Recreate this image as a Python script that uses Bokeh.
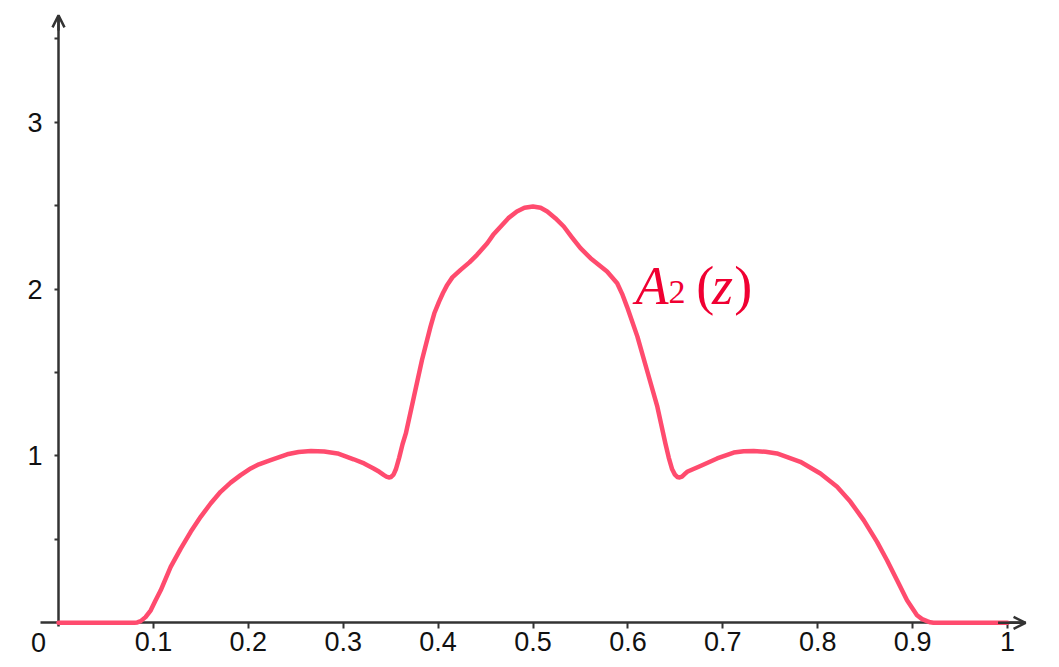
from bokeh.plotting import figure
from bokeh.models import Range1d, FixedTicker, Label, Arrow, OpenHead
from bokeh.embed import file_html
from bokeh.resources import INLINE

# ---- data ----
z_vals = [0.0, 0.08, 0.083, 0.0866, 0.0917, 0.0972, 0.1022, 0.1077, 0.1182, 0.1288,
          0.1393, 0.1498, 0.1603, 0.1708, 0.1814, 0.1919, 0.2025, 0.2112, 0.2235, 0.241,
          0.253, 0.266, 0.28, 0.294, 0.311, 0.322, 0.332, 0.338, 0.343, 0.3455,
          0.348, 0.3505, 0.353, 0.3555, 0.359, 0.3625, 0.366, 0.3745, 0.383, 0.392,
          0.396, 0.401, 0.405, 0.4096, 0.415, 0.4237, 0.433, 0.441, 0.4518, 0.458,
          0.466, 0.474, 0.483, 0.491, 0.5, 0.508, 0.515, 0.5235, 0.5324, 0.541,
          0.55, 0.5606, 0.578, 0.5887, 0.594, 0.599, 0.61, 0.62, 0.631, 0.6395,
          0.643, 0.6466, 0.6495, 0.652, 0.6545, 0.657, 0.66, 0.6624, 0.6764, 0.694,
          0.7115, 0.722, 0.7325, 0.745, 0.757, 0.7817, 0.8028, 0.8204, 0.8345, 0.8484,
          0.8625, 0.873, 0.8836, 0.8941, 0.9046, 0.91, 0.9152, 0.9185, 0.922, 1.0]
a_vals = [0.0, 0.0, 0.002, 0.01, 0.034, 0.075, 0.134, 0.195, 0.335, 0.445,
          0.545, 0.635, 0.715, 0.785, 0.84, 0.885, 0.925, 0.95, 0.975, 1.01,
          1.024, 1.03, 1.027, 1.015, 0.98, 0.955, 0.925, 0.905, 0.885, 0.876,
          0.871, 0.874, 0.888, 0.92, 0.99, 1.07, 1.135, 1.355, 1.575, 1.775,
          1.855, 1.925, 1.975, 2.025, 2.07, 2.115, 2.16, 2.205, 2.275, 2.325,
          2.375, 2.425, 2.465, 2.487, 2.495, 2.487, 2.465, 2.425, 2.375, 2.31,
          2.245, 2.185, 2.105, 2.035, 1.97, 1.895, 1.715, 1.515, 1.295, 1.075,
          0.99, 0.92, 0.888, 0.874, 0.871, 0.876, 0.892, 0.905, 0.94, 0.985,
          1.02, 1.028, 1.03, 1.025, 1.015, 0.965, 0.895, 0.815, 0.725, 0.615,
          0.485, 0.375, 0.255, 0.135, 0.045, 0.022, 0.01, 0.003, 0.0, 0.0]

x_ticks = [0.1, 0.2, 0.3, 0.4, 0.5, 0.6, 0.7, 0.8, 0.9, 1.0]
x_tick_labels = ["0.1", "0.2", "0.3", "0.4", "0.5", "0.6", "0.7", "0.8", "0.9", "1"]
y_ticks = [1, 2, 3]
y_minor_ticks = [0.5, 1.5, 2.5, 3.5]
y_tick_labels = ["1", "2", "3"]
origin_label = "0"

AXIS_COLOR = "#333333"
CURVE_COLOR = "#ff4b6e"
TEXT_RED = "#f00032"

p = figure(width=1043, height=660,
           x_range=Range1d(-0.06112, 1.0379), y_range=Range1d(-0.2259, 3.7293),
           output_backend="svg", toolbar_location=None, min_border=0)
p.outline_line_color = None
p.grid.visible = False
p.background_fill_color = "white"

xa = p.xaxis[0]
xa.fixed_location = 0
xa.bounds = (-0.019, 1.019)
xa.ticker = FixedTicker(ticks=x_ticks, minor_ticks=[])
xa.major_label_overrides = {t: l for t, l in zip(x_ticks, x_tick_labels)}
xa.axis_line_color = AXIS_COLOR
xa.axis_line_width = 2.5
xa.major_tick_line_color = AXIS_COLOR
xa.major_tick_line_width = 2
xa.major_tick_in = 0
xa.major_tick_out = 6
xa.minor_tick_line_color = None
xa.major_label_text_font = "Liberation Sans"
xa.major_label_text_font_size = "27px"
xa.major_label_text_color = "#111111"
xa.major_label_standoff = 3

ya = p.yaxis[0]
ya.fixed_location = 0
ya.bounds = (-0.022, 3.640)
ya.ticker = FixedTicker(ticks=y_ticks, minor_ticks=y_minor_ticks)
ya.major_label_overrides = {t: l for t, l in zip(y_ticks, y_tick_labels)}
ya.axis_line_color = AXIS_COLOR
ya.axis_line_width = 2.5
ya.major_tick_line_color = AXIS_COLOR
ya.major_tick_line_width = 2
ya.major_tick_in = 0
ya.major_tick_out = 4
ya.minor_tick_line_color = AXIS_COLOR
ya.minor_tick_line_width = 2
ya.minor_tick_in = 0
ya.minor_tick_out = 4
ya.major_label_text_font = "Liberation Sans"
ya.major_label_text_font_size = "27px"
ya.major_label_text_color = "#111111"
ya.major_label_standoff = 12

# arrow heads at the axis ends
p.add_layout(Arrow(end=OpenHead(size=12, line_width=2.5, line_color=AXIS_COLOR),
                   x_start=0.99, y_start=0, x_end=1.019, y_end=0,
                   line_color=AXIS_COLOR, line_width=2.5))
p.add_layout(Arrow(end=OpenHead(size=12, line_width=2.5, line_color=AXIS_COLOR),
                   x_start=0, y_start=3.55, x_end=0, y_end=3.64,
                   line_color=AXIS_COLOR, line_width=2.5))

r = p.line(z_vals, a_vals, line_width=4.5, line_color=CURVE_COLOR,
           line_join="round", line_cap="round")
r.level = "annotation"

p.add_layout(Label(x=-0.0211, y=-0.118, text=origin_label, text_align="center",
                   text_baseline="middle", text_font="Liberation Sans",
                   text_font_size="27px", text_color="#111111"))

# curve label  A_2(z)
lab_y = 2.0213
p.add_layout(Label(x=0.6080, y=lab_y, text="A", text_font="Liberation Serif",
                   text_font_style="italic", text_font_size="54px", text_color=TEXT_RED,
                   text_baseline="alphabetic"))
p.add_layout(Label(x=0.6427, y=1.9854, text="2", text_font="Liberation Serif",
                   text_font_size="34px", text_color=TEXT_RED, text_baseline="alphabetic"))
p.add_layout(Label(x=0.6720, y=lab_y, text="(", text_font="Liberation Serif",
                   text_font_size="54px", text_color=TEXT_RED, text_baseline="alphabetic"))
p.add_layout(Label(x=0.6885, y=lab_y, text="z", text_font="Liberation Serif",
                   text_font_style="italic", text_font_size="54px", text_color=TEXT_RED,
                   text_baseline="alphabetic"))
p.add_layout(Label(x=0.7120, y=lab_y, text=")", text_font="Liberation Serif",
                   text_font_size="54px", text_color=TEXT_RED, text_baseline="alphabetic"))

open("out.html", "w").write(file_html(p, INLINE))
